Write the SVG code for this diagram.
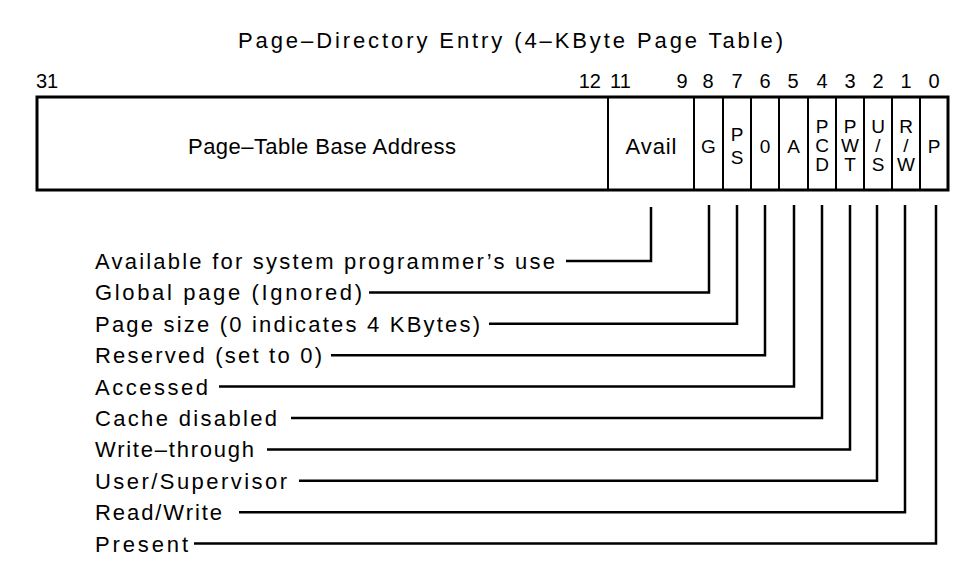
<svg xmlns="http://www.w3.org/2000/svg" width="977" height="570" viewBox="0 0 977 570">
<style>
text{font-family:"Liberation Sans",Arial,Helvetica,sans-serif;fill:#000}
.t{font-size:22px}
.lab{font-size:22px}
.num{font-size:20px}
.cell{font-size:19px;text-anchor:middle}
.mid{text-anchor:middle}
.frame{fill:#fff;stroke:#000;stroke-width:3}
.div{stroke:#000;stroke-width:2}
.con{fill:none;stroke:#000;stroke-width:2.5;stroke-linejoin:miter}
</style>
<rect width="977" height="570" fill="#fff"/>
<text id="title" class="t" x="238" y="48" textLength="545" lengthAdjust="spacing">Page–Directory Entry (4–KByte Page Table)</text>
<g id="bitnums" class="num">
<text x="36" y="88">31</text>
<text x="601" y="88" text-anchor="end">12</text>
<text x="610" y="88">11</text>
<text x="682" y="88" class="mid">9</text>
<text x="708" y="88" class="mid">8</text>
<text x="737" y="88" class="mid">7</text>
<text x="765" y="88" class="mid">6</text>
<text x="793" y="88" class="mid">5</text>
<text x="822" y="88" class="mid">4</text>
<text x="850" y="88" class="mid">3</text>
<text x="878" y="88" class="mid">2</text>
<text x="906" y="88" class="mid">1</text>
<text x="934" y="88" class="mid">0</text>
</g>
<g id="entry">
<rect class="frame" x="37" y="97" width="911" height="93"/>
<g class="div">
<line x1="608" y1="97" x2="608" y2="190"/>
<line x1="694" y1="97" x2="694" y2="190"/>
<line x1="723" y1="97" x2="723" y2="190"/>
<line x1="751" y1="97" x2="751" y2="190"/>
<line x1="779" y1="97" x2="779" y2="190"/>
<line x1="808" y1="97" x2="808" y2="190"/>
<line x1="836" y1="97" x2="836" y2="190"/>
<line x1="864" y1="97" x2="864" y2="190"/>
<line x1="892" y1="97" x2="892" y2="190"/>
<line x1="920" y1="97" x2="920" y2="190"/>
</g>
</g>
<g id="field-base"><text class="t mid" x="322" y="154" textLength="268" lengthAdjust="spacing">Page–Table Base Address</text></g>
<g id="field-avail"><text class="t mid" x="651" y="154" textLength="51" lengthAdjust="spacing">Avail</text></g>
<g id="field-g"><text class="cell" x="708.5" y="153">G</text></g>
<g id="field-ps"><text class="cell" x="737" y="141">P</text><text class="cell" x="737" y="164">S</text></g>
<g id="field-0"><text class="cell" x="765" y="153">0</text></g>
<g id="field-a"><text class="cell" x="793.5" y="153">A</text></g>
<g id="field-pcd"><text class="cell" x="822" y="133">P</text><text class="cell" x="822" y="152">C</text><text class="cell" x="822" y="171">D</text></g>
<g id="field-pwt"><text class="cell" x="850" y="133">P</text><text class="cell" x="850" y="152">W</text><text class="cell" x="850" y="171">T</text></g>
<g id="field-us"><text class="cell" x="878" y="133">U</text><text class="cell" x="878" y="152">/</text><text class="cell" x="878" y="171">S</text></g>
<g id="field-rw"><text class="cell" x="906" y="133">R</text><text class="cell" x="906" y="152">/</text><text class="cell" x="906" y="171">W</text></g>
<g id="field-p"><text class="cell" x="934" y="153">P</text></g>
<g id="labels" class="lab">
<text id="l-avail" x="95" y="269" textLength="460" lengthAdjust="spacing">Available for system programmer’s use</text>
<text id="l-g" x="95" y="300.4" textLength="267" lengthAdjust="spacing">Global page (Ignored)</text>
<text id="l-ps" x="95" y="331.8" textLength="385" lengthAdjust="spacing">Page size (0 indicates 4 KBytes)</text>
<text id="l-0" x="95" y="363.2" textLength="227" lengthAdjust="spacing">Reserved (set to 0)</text>
<text id="l-a" x="95" y="394.6" textLength="113" lengthAdjust="spacing">Accessed</text>
<text id="l-pcd" x="95" y="426" textLength="182" lengthAdjust="spacing">Cache disabled</text>
<text id="l-pwt" x="95" y="457.4" textLength="159" lengthAdjust="spacing">Write–through</text>
<text id="l-us" x="95" y="488.8" textLength="192" lengthAdjust="spacing">User/Supervisor</text>
<text id="l-rw" x="95" y="520.2" textLength="127" lengthAdjust="spacing">Read/Write</text>
<text id="l-p" x="95" y="551.6" textLength="93" lengthAdjust="spacing">Present</text>
</g>
<g id="connectors" class="con">
<polyline points="566,261 651,261 651,207"/>
<polyline points="369,292.4 709,292.4 709,205"/>
<polyline points="489,323.8 737,323.8 737,205"/>
<polyline points="331,355.2 765,355.2 765,205"/>
<polyline points="219,386.6 794,386.6 794,205"/>
<polyline points="291,418 822,418 822,205"/>
<polyline points="267,449.4 850,449.4 850,205"/>
<polyline points="299,480.8 877,480.8 877,205"/>
<polyline points="239,512.2 905,512.2 905,205"/>
<polyline points="194,543.6 936,543.6 936,205"/>
</g>
</svg>
